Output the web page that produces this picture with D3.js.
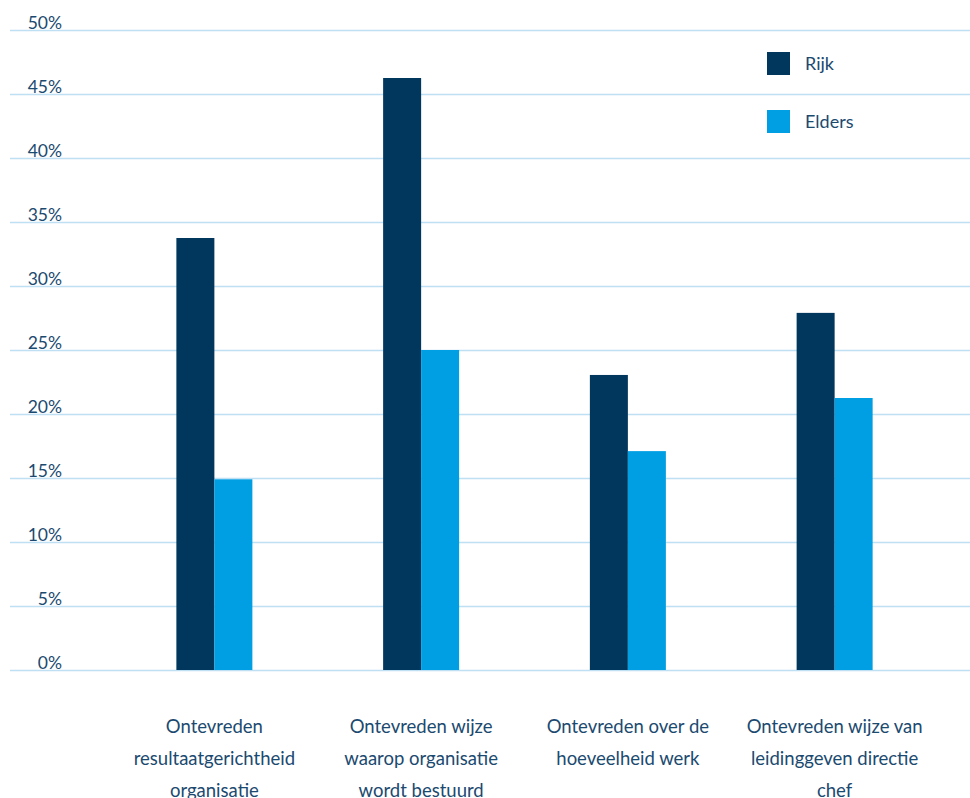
<!DOCTYPE html>
<html>
<head>
<meta charset="utf-8">
<script src="https://cdn.jsdelivr.net/npm/d3@7"></script>
<style>
  body { margin: 0; background: #fff; }
  svg { display: block; font-family: Lato, "Open Sans", sans-serif; }
</style>
</head>
<body>
<div id="chart"></div>
<script>
var categories = [
    ["Ontevreden", "resultaatgerichtheid", "organisatie"],
    ["Ontevreden wijze", "waarop organisatie", "wordt bestuurd"],
    ["Ontevreden over de", "hoeveelheid werk"],
    ["Ontevreden wijze van", "leidinggeven directie", "chef"]
];
var seriesNames = ["Rijk", "Elders"];
var rijk = [33.75, 46.25, 23.05, 27.9];
var elders = [14.9, 25.0, 17.1, 21.25];
var yTicks = [0, 5, 10, 15, 20, 25, 30, 35, 40, 45, 50];

var w = 970,
    h = 798,
    colors = ["#01375d", "#009fe3"],
    textColor = "#1b4a70";

var svg = d3.select("#chart")
    .append("svg")
    .attr("width", w)
    .attr("height", h);

var y = d3.scaleLinear().domain([0, 50]).range([670, 30]);
var x = d3.scaleBand().domain(d3.range(categories.length)).range([111, 938]);
var xInner = d3.scaleBand().domain([0, 1]).range([-38, 38]);

// grid lines
svg.selectAll("line.grid")
    .data(yTicks)
    .enter()
    .append("line")
    .attr("class", "grid")
    .attr("x1", 10)
    .attr("x2", w)
    .attr("y1", function (d) { return y(d) + 0.5; })
    .attr("y2", function (d) { return y(d) + 0.5; })
    .attr("stroke", "#bfe0f3")
    .attr("stroke-width", 1.5);

// y tick labels
svg.selectAll("text.ytick")
    .data(yTicks)
    .enter()
    .append("text")
    .attr("class", "ytick")
    .attr("x", 62)
    .attr("y", function (d) { return y(d) - 1; })
    .attr("text-anchor", "end")
    .attr("font-size", 17.5)
    .attr("fill", textColor)
    .text(function (d) { return d + "%"; });

// bars
var data = [rijk, elders];
data.forEach(function (series, s) {
    svg.selectAll("rect.s" + s)
        .data(series)
        .enter()
        .append("rect")
        .attr("class", "s" + s)
        .attr("x", function (d, i) { return x(i) + x.bandwidth() / 2 + xInner(s); })
        .attr("width", xInner.bandwidth())
        .attr("y", function (d) { return y(d); })
        .attr("height", function (d) { return y(0) - y(d); })
        .attr("fill", colors[s]);
});

// category labels
svg.selectAll("text.cat")
    .data(categories)
    .enter()
    .append("text")
    .attr("class", "cat")
    .attr("text-anchor", "middle")
    .attr("font-size", 18.5)
    .attr("fill", textColor)
    .each(function (lines, i) {
        var t = d3.select(this);
        lines.forEach(function (l, j) {
            t.append("tspan")
                .attr("x", x(i) + x.bandwidth() / 2)
                .attr("y", 733 + j * 32)
                .text(l);
        });
    });

// legend
var legend = svg.selectAll("g.legend")
    .data(seriesNames)
    .enter()
    .append("g")
    .attr("class", "legend")
    .attr("transform", function (d, i) { return "translate(767," + (52 + i * 58) + ")"; });

legend.append("rect")
    .attr("width", 23)
    .attr("height", 23)
    .attr("fill", function (d, i) { return colors[i]; });

legend.append("text")
    .attr("x", 38)
    .attr("y", 18)
    .attr("font-size", 18)
    .attr("fill", textColor)
    .text(function (d) { return d; });
</script>
</body>
</html>
